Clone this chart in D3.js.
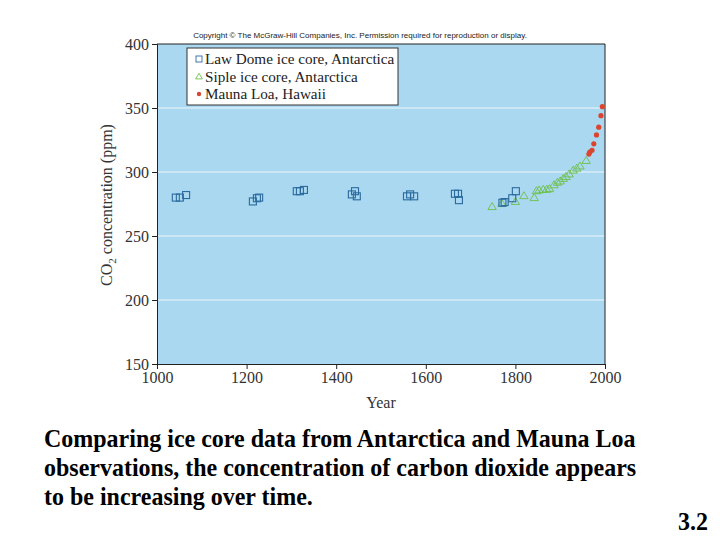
<!DOCTYPE html>
<html>
<head>
<meta charset="utf-8">
<script src="https://cdn.jsdelivr.net/npm/d3@7"></script>
<style>
    body { margin: 0; background: #fff; }
    svg { display: block; }
</style>
</head>
<body>
<svg id="canvas" width="720" height="540"></svg>
<script>
// Law Dome ice core (year, ppm)
const lawDomeYears = [1042, 1051, 1065, 1214, 1223, 1228, 1312, 1319, 1328, 1435, 1442, 1446,
    1558, 1565, 1574, 1665, 1672, 1674, 1771, 1776, 1793, 1801];
const lawDomePpm = [280, 280, 282, 277, 279.5, 280, 285, 285, 286, 282.5, 285, 281,
    281, 282.5, 281, 283, 283, 278, 276, 276.5, 279.5, 285];

// Siple ice core
const sipleYears = [1748, 1770, 1800, 1819, 1842, 1847, 1853, 1862, 1870, 1876, 1886, 1894,
    1900, 1907, 1913, 1920, 1929, 1937, 1944, 1958];
const siplePpm = [273, 275.5, 277, 281.5, 280, 285.4, 286, 286.5, 286.5, 287, 290, 292,
    293, 295, 296.5, 298.5, 301.5, 303, 304.7, 309];

// Mauna Loa
const maunaYears = [1964, 1966, 1971, 1975, 1981, 1986, 1991, 1994];
const maunaPpm = [314, 315.5, 317, 322, 329, 335, 344, 351];

const xTicks = [1000, 1200, 1400, 1600, 1800, 2000];
const yTicks = [150, 200, 250, 300, 350, 400];

const legendLabels = ["Law Dome ice core, Antarctica", "Siple ice core, Antarctica", "Mauna Loa, Hawaii"];

const svg = d3.select("#canvas");
const serif = "'Liberation Serif', 'Times New Roman', serif";

const x = d3.scaleLinear().domain([1000, 2000]).range([157, 605]);
const y = d3.scaleLinear().domain([150, 400]).range([364, 44]);

// copyright line
svg.append("text")
    .attr("x", 360).attr("y", 38)
    .attr("text-anchor", "middle")
    .attr("font-family", "'Liberation Sans', Arial, sans-serif")
    .attr("font-size", 8)
    .attr("fill", "#222")
    .text("Copyright © The McGraw-Hill Companies, Inc. Permission required for reproduction or display.");

// plot background
svg.append("rect")
    .attr("x", x(1000)).attr("y", y(400))
    .attr("width", x(2000) - x(1000)).attr("height", y(150) - y(400))
    .attr("fill", "#abd8f1");

// gridlines
svg.append("g")
    .selectAll("line")
    .data(yTicks.filter((d) => d > 150 && d < 400))
    .enter()
    .append("line")
    .attr("x1", x(1000)).attr("x2", x(2000))
    .attr("y1", (d) => y(d)).attr("y2", (d) => y(d))
    .attr("stroke", "#eef8fd")
    .attr("stroke-width", 1.2);

// frame top/right
svg.append("path")
    .attr("d", `M${x(1000)},${y(400)}H${x(2000)}V${y(150)}`)
    .attr("fill", "none")
    .attr("stroke", "#222")
    .attr("stroke-width", 1);

// axes
const xAxis = svg.append("g")
    .attr("transform", `translate(0,${y(150)})`)
    .call(d3.axisBottom(x).tickValues(xTicks).tickSize(5).tickPadding(3).tickFormat(d3.format("d")));
const yAxis = svg.append("g")
    .attr("transform", `translate(${x(1000)},0)`)
    .call(d3.axisLeft(y).tickValues(yTicks).tickSize(5).tickPadding(3));

[xAxis, yAxis].forEach((g) => {
    g.select(".domain").attr("stroke", "#222");
    g.selectAll(".tick line").attr("stroke", "#222");
    g.selectAll("text")
        .attr("font-family", serif)
        .attr("font-size", 16)
        .attr("fill", "#333");
});

// axis labels
svg.append("text")
    .attr("x", 381).attr("y", 408)
    .attr("text-anchor", "middle")
    .attr("font-family", serif)
    .attr("font-size", 16)
    .attr("fill", "#333")
    .text("Year");

const yLabel = svg.append("text")
    .attr("transform", "translate(112,205) rotate(-90)")
    .attr("text-anchor", "middle")
    .attr("font-family", serif)
    .attr("font-size", 16)
    .attr("fill", "#333");
yLabel.append("tspan").text("CO");
yLabel.append("tspan").attr("font-size", 11).attr("dy", 4).text("2");
yLabel.append("tspan").attr("dy", -4).text(" concentration (ppm)");

// data
const lawDome = lawDomeYears.map((d, i) => ({ year: d, ppm: lawDomePpm[i] }));
const siple = sipleYears.map((d, i) => ({ year: d, ppm: siplePpm[i] }));
const mauna = maunaYears.map((d, i) => ({ year: d, ppm: maunaPpm[i] }));

const triangle = (cx, cy, r) =>
    `M${cx},${cy - r}L${cx + r * 1.05},${cy + r * 0.75}L${cx - r * 1.05},${cy + r * 0.75}Z`;

svg.append("g")
    .selectAll("path")
    .data(siple)
    .enter()
    .append("path")
    .attr("d", (d) => triangle(x(d.year), y(d.ppm), 4))
    .attr("fill", "none")
    .attr("stroke", "#6cc04a")
    .attr("stroke-width", 0.9);

svg.append("g")
    .selectAll("rect")
    .data(lawDome)
    .enter()
    .append("rect")
    .attr("x", (d) => x(d.year) - 3.5)
    .attr("y", (d) => y(d.ppm) - 3.5)
    .attr("width", 7).attr("height", 7)
    .attr("fill", "none")
    .attr("stroke", "#2a6a9e")
    .attr("stroke-width", 1.1);

svg.append("g")
    .selectAll("circle")
    .data(mauna)
    .enter()
    .append("circle")
    .attr("cx", (d) => x(d.year))
    .attr("cy", (d) => y(d.ppm))
    .attr("r", 2.6)
    .attr("fill", "#d9452f");

// legend
const legend = svg.append("g").attr("transform", "translate(187,48)");
legend.append("rect")
    .attr("width", 211).attr("height", 57)
    .attr("fill", "#fff")
    .attr("stroke", "#333")
    .attr("stroke-width", 1);

legendLabels.forEach((label, i) => {
    const cy = 11 + i * 17.5;
    if (i === 0) {
        legend.append("rect")
            .attr("x", 9).attr("y", cy - 3)
            .attr("width", 6).attr("height", 6)
            .attr("fill", "none").attr("stroke", "#2a6a9e").attr("stroke-width", 0.9);
    } else if (i === 1) {
        legend.append("path")
            .attr("d", triangle(12, cy, 3.2))
            .attr("fill", "none").attr("stroke", "#6cc04a").attr("stroke-width", 0.9);
    } else {
        legend.append("circle")
            .attr("cx", 12).attr("cy", cy).attr("r", 2.2).attr("fill", "#d9452f");
    }
    legend.append("text")
        .attr("x", 18).attr("y", cy + 5)
        .attr("font-family", serif)
        .attr("font-size", 15.2)
        .attr("fill", "#222")
        .text(label);
});

// caption (slightly condensed, like the slide)
const captionLines = [
    "Comparing ice core data from Antarctica and Mauna Loa",
    "observations, the concentration of carbon dioxide appears",
    "to be increasing over time."
];
const caption = svg.append("g").attr("transform", "translate(44,0) scale(0.923,1)");
caption.selectAll("text")
    .data(captionLines)
    .enter()
    .append("text")
    .attr("x", 0)
    .attr("y", (d, i) => 447 + i * 29)
    .attr("font-family", serif)
    .attr("font-weight", "bold")
    .attr("font-size", 26)
    .attr("fill", "#000")
    .text((d) => d);

svg.append("g")
    .attr("transform", "translate(708,0) scale(0.923,1)")
    .append("text")
    .attr("x", 0).attr("y", 530)
    .attr("text-anchor", "end")
    .attr("font-family", serif)
    .attr("font-weight", "bold")
    .attr("font-size", 26)
    .attr("fill", "#000")
    .text("3.2");
</script>
</body>
</html>
